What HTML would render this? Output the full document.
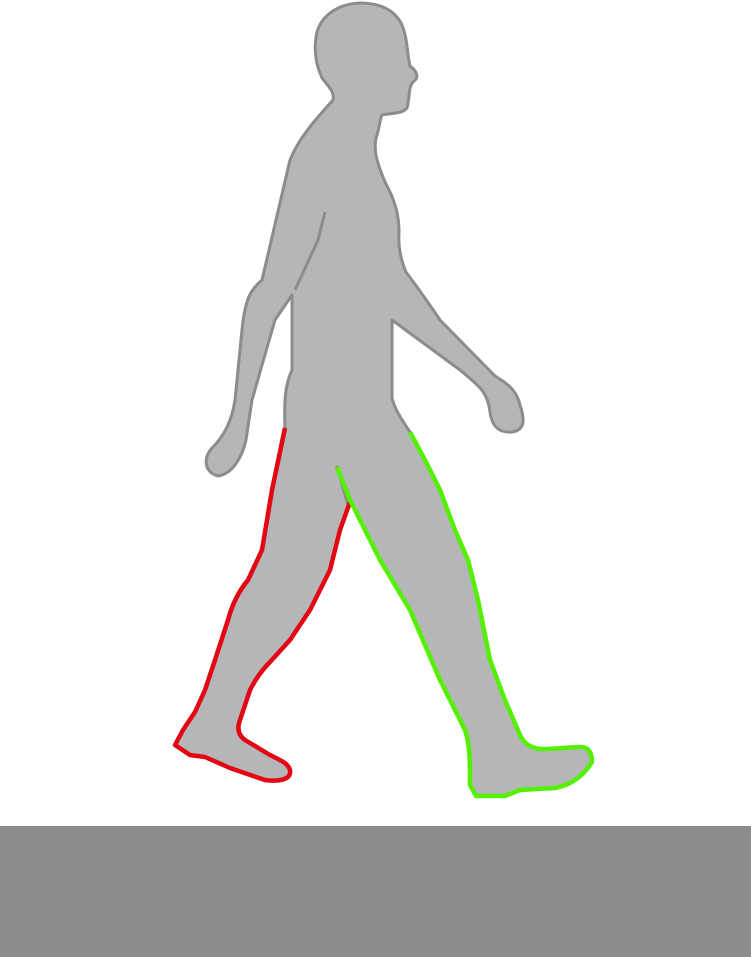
<!DOCTYPE html>
<html><head><meta charset="utf-8"><style>
html,body{margin:0;padding:0;background:#fff;width:751px;height:957px;overflow:hidden}
svg{display:block}
</style></head><body>
<svg width="751" height="957" viewBox="0 0 751 957">
<rect x="0" y="826" width="751" height="131" fill="#8c8c8c"/>
<path fill="#b5b6b8" stroke="#8c8c8c" stroke-width="3" stroke-linejoin="round"
d="M333,100 C320,115 300,135 290,160 L262,280 C250,290 245,300 242,330 L235,400 C232,420 225,435 212,448 C203,458 204,472 218,476 C232,474 242,458 246,440 L252,400 L275,320 L292,295 L292,370 C285,385 284,400 285,428
L272,490 L262,550 L248,580 C238,592 232,605 228,620 L215,660 L205,690 L195,712 L183,730 L175,745 L190,755 L205,757 L230,768 L265,780 C280,782 292,779 290,770 C288,763 280,760 270,755 L245,740 C238,735 237,728 240,720 L250,690 C255,680 262,670 270,662 L290,640 L310,610 L330,570 L340,530 L348,505
L337,467 L350,500 L380,560 L410,610 L440,680 L465,730 C470,745 470,760 470,785 L476,796 L505,796 L520,790 L555,788 C570,785 582,778 592,762 C592,752 588,746 578,747 L548,749 C535,750 525,746 520,735 L505,700 L490,660 L478,600 L468,560 L455,530 L440,490 L425,460 L410,432
C402,420 395,410 392,398 L392,320 L460,370 C478,385 488,392 490,412 C492,428 500,433 512,432 C525,430 525,420 520,405 C517,392 510,385 495,376 L440,320 C428,302 418,288 406,272 C400,258 398,245 399,232 C399,215 395,200 385,182 C378,165 372,150 377,135 C380,125 380,118 382,115 C392,113 402,114 407,108 C410,98 408,88 413,82 C419,78 418,72 410,66 C407,55 408,40 402,25 C395,10 380,3 360,3 C338,4 322,15 317,32 C313,50 316,65 322,78 C328,86 335,92 333,100 Z"/>
<path d="M325,212 L318,240 L295,290" fill="none" stroke="#8c8c8c" stroke-width="3"/>
<path fill="none" stroke="#e30613" stroke-width="4.5" stroke-linejoin="round"
d="M285,428 L272,490 L262,550 L248,580 C238,592 232,605 228,620 L215,660 L205,690 L195,712 L183,730 L175,745 L190,755 L205,757 L230,768 L265,780 C280,782 292,779 290,770 C288,763 280,760 270,755 L245,740 C238,735 237,728 240,720 L250,690 C255,680 262,670 270,662 L290,640 L310,610 L330,570 L340,530 L350,502"/>
<path fill="none" stroke="#55f000" stroke-width="4.5" stroke-linejoin="round"
d="M337,467 L350,500 L380,560 L410,610 L440,680 L465,730 C470,745 470,760 470,785 L476,796 L505,796 L520,790 L555,788 C570,785 582,778 592,762 C592,752 588,746 578,747 L548,749 C535,750 525,746 520,735 L505,700 L490,660 L478,600 L468,560 L455,530 L440,490 L425,460 L410,432"/>
</svg>
</body></html>
